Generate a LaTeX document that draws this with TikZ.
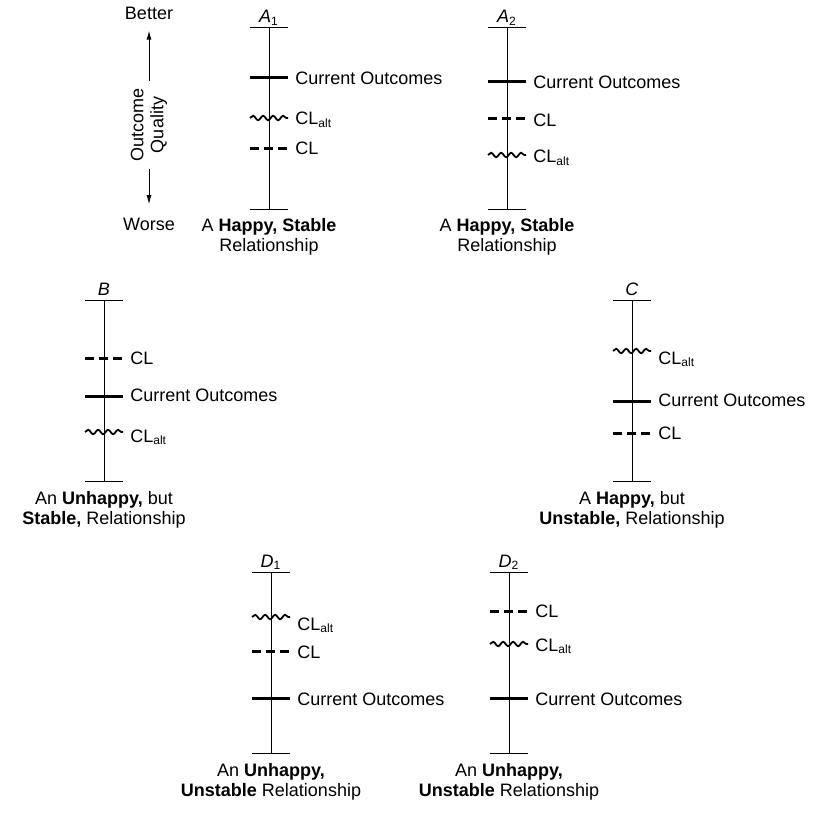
\documentclass[tikz,border=0pt]{standalone}
\usepackage{fontspec}
\setmainfont{Liberation Sans}
\usetikzlibrary{arrows.meta,decorations.pathmorphing}

\begin{document}
\begin{tikzpicture}[x=0.5pt, y=-0.5pt, font=\fontsize{9}{10}\selectfont,
    axis/.style = {line width=0.5pt},
    cur/.style = {line width=1.5pt},
    cl/.style = {line width=1.5pt, dash pattern=on 4.5pt off 2.5pt},
    alt/.style = {line width=0.9pt, decorate, decoration={snake, segment length=5pt, amplitude=1.1pt}},
    lbl/.style = {anchor=base west, inner sep=0pt},
    title/.style = {anchor=base, inner sep=0pt},
    caption/.style = {anchor=north, inner sep=0pt, align=center},
    arr/.style = {line width=0.5pt, -{Latex[length=4.5pt,width=2.5pt]}}]
        \useasboundingbox (0,0) rectangle (834,834);
        % scales
        \foreach \n/\x/\t/\b/\l in {a1/269/28/210/\textit{A}\textsubscript{1}, a2/507/28/210/\textit{A}\textsubscript{2},
                b/104/300/481/\textit{B}, c/632/300/481/\textit{C},
                d1/271/572/753/\textit{D}\textsubscript{1}, d2/509/572/753/\textit{D}\textsubscript{2}} {
            \coordinate (\n-top) at (\x,\t);
            \coordinate (\n-bot) at (\x,\b);
            \draw[axis] (\n-top) -- (\n-bot);
            \draw[axis] ([xshift=-9.5pt]\n-top) -- ([xshift=9.5pt]\n-top);
            \draw[axis] ([xshift=-9.5pt]\n-bot) -- ([xshift=9.5pt]\n-bot);
            \node[title] (\n-lab) at ([yshift=2.5pt]\n-top) {\l};
        }
        % levels on each scale
        \foreach \x/\y/\ly/\s/\txt [count=\i] in {
                269/78/85/cur/Current Outcomes, 269/118/125/alt/CL\textsubscript{alt}, 269/149/155/cl/CL,
                507/82/88.5/cur/Current Outcomes, 507/119/127/cl/CL, 507/155/163/alt/CL\textsubscript{alt},
                104/358/364/cl/CL, 104/396/401/cur/Current Outcomes, 104/432/442/alt/CL\textsubscript{alt},
                632/351/364/alt/CL\textsubscript{alt}, 632/401/406/cur/Current Outcomes, 632/433/439/cl/CL,
                271/617/630/alt/CL\textsubscript{alt}, 271/651/658/cl/CL, 271/698/705/cur/Current Outcomes,
                509/611/617/cl/CL, 509/644/651/alt/CL\textsubscript{alt}, 509/698/705/cur/Current Outcomes} {
            \draw[\s] (\x-19,\y) -- (\x+19,\y);
            \node[lbl] (lvl\i) at (\x+26,\ly) {\txt};
        }
        % captions
        \node[caption] (a1cap) at ([yshift=-4pt]a1-bot) {A \textbf{Happy, Stable}\\Relationship};
        \node[caption] (a2cap) at ([yshift=-4pt]a2-bot) {A \textbf{Happy, Stable}\\Relationship};
        \node[caption] (bcap) at ([yshift=-5pt]b-bot) {An \textbf{Unhappy,} but\\\textbf{Stable,} Relationship};
        \node[caption] (ccap) at ([yshift=-5pt]c-bot) {A \textbf{Happy,} but\\\textbf{Unstable,} Relationship};
        \node[caption] (d1cap) at ([yshift=-5pt]d1-bot) {An \textbf{Unhappy,}\\\textbf{Unstable} Relationship};
        \node[caption] (d2cap) at ([yshift=-5pt]d2-bot) {An \textbf{Unhappy,}\\\textbf{Unstable} Relationship};
        % quality axis
        \node[title] (better) at (149,20) {Better};
        \node[title] (worse) at (149,230) {Worse};
        \node[rotate=90, align=center, inner sep=0pt] (quality) at (149,125) {Outcome\\Quality};
        \draw[arr] ([yshift=3.5pt]quality.east) -- ([yshift=-5pt]better.south);
        \draw[arr] ([yshift=-3.5pt]quality.west) -- ([yshift=6.5pt]worse.north);
    \end{tikzpicture}
\end{document}
